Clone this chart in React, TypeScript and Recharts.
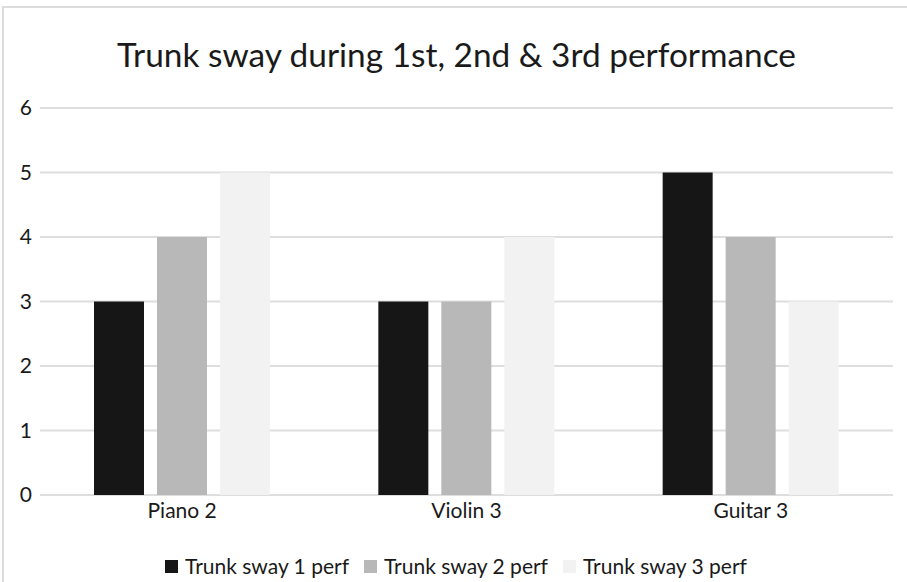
import { Bar, BarChart, CartesianGrid, XAxis, YAxis } from "recharts";

const categories = ["Piano 2", "Violin 3", "Guitar 3"];
const sway1 = [3, 3, 5];
const sway2 = [4, 3, 4];
const sway3 = [5, 4, 3];
const yTicks = [0, 1, 2, 3, 4, 5, 6];

const series = [
  { key: "s1", name: "Trunk sway 1 perf", values: sway1, color: "#161616" },
  { key: "s2", name: "Trunk sway 2 perf", values: sway2, color: "#b8b8b8" },
  { key: "s3", name: "Trunk sway 3 perf", values: sway3, color: "#f2f2f2" },
];

const data = categories.map((c, i) => {
  const row: Record<string, string | number> = { name: c };
  series.forEach((s) => (row[s.key] = s.values[i]));
  return row;
});

const font = "Lato, 'DejaVu Sans', sans-serif";

export default function App() {
  return (
    <div
      style={{
        position: "absolute",
        left: 0,
        top: 0,
        width: 907,
        height: 582,
        overflow: "hidden",
        background: "#fff",
        fontFamily: font,
      }}
    >
      <div
        style={{
          position: "absolute",
          left: 2,
          top: 6,
          width: 940,
          height: 620,
          border: "2px solid #dcdcdc",
        }}
      />
      <div
        style={{
          position: "absolute",
          left: 0,
          top: 34,
          width: 913,
          textAlign: "center",
          fontSize: 33.4,
          lineHeight: "40px",
          color: "#1a1a1a",
        }}
      >
        Trunk sway during 1st, 2nd &amp; 3rd performance
      </div>
      <div style={{ position: "absolute", left: 0, top: 0 }}>
        <BarChart
          width={907}
          height={582}
          data={data}
          margin={{ top: 108, right: 14, left: 0, bottom: 57 }}
          barSize={50}
          barGap={13}
        >
          <CartesianGrid vertical={false} stroke="#dedede" strokeWidth={2} />
          <XAxis
            dataKey="name"
            axisLine={false}
            tickLine={false}
            height={30}
            tick={{ fontSize: 21, fill: "#1a1a1a", fontFamily: font }}
          />
          <YAxis
            domain={[0, 6]}
            ticks={yTicks}
            width={40}
            axisLine={false}
            tickLine={false}
            tick={{ fontSize: 21, fill: "#1a1a1a", fontFamily: font }}
          />
          {series.map((s) => (
            <Bar key={s.key} dataKey={s.key} name={s.name} fill={s.color} isAnimationActive={false} />
          ))}
        </BarChart>
      </div>
      <div
        style={{
          position: "absolute",
          left: 0,
          top: 553,
          width: 912,
          display: "flex",
          justifyContent: "center",
          fontSize: 21,
          color: "#1a1a1a",
          lineHeight: "26px",
        }}
      >
        {series.map((s) => (
          <div key={s.key} style={{ display: "flex", alignItems: "center", margin: "0 7.5px" }}>
            <span style={{ width: 13, height: 13, background: s.color, marginRight: 7, display: "inline-block" }} />
            <span>{s.name}</span>
          </div>
        ))}
      </div>
    </div>
  );
}
